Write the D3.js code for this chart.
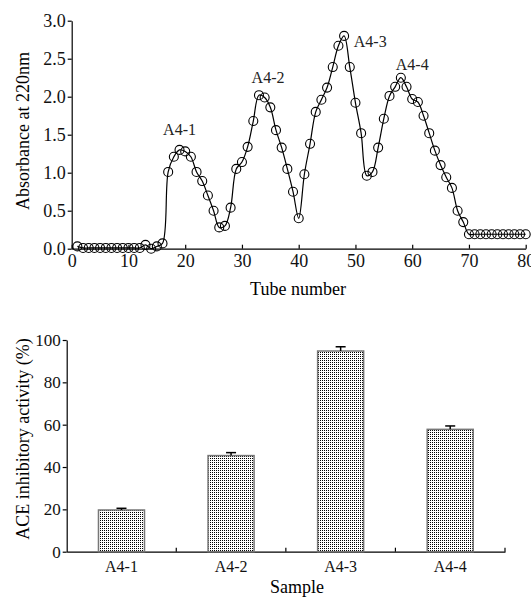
<!DOCTYPE html>
<html>
<head>
<meta charset="utf-8">
<script src="https://cdn.jsdelivr.net/npm/d3@7"></script>
<style>
  body { margin: 0; background: #fff; }
  svg { display: block; }
  svg text { font-family: "Liberation Serif", "Times New Roman", serif; }
</style>
</head>
<body>
<svg id="chart" width="531" height="597"></svg>
<script>
// elution profile (tube number -> absorbance at 220nm)
const tubes = d3.range(1, 81);
const absorbance = [
  0.03, 0.01, 0.01, 0.01, 0.01, 0.01, 0.01, 0.01, 0.01, 0.01,
  0.01, 0.01, 0.05, 0.00, 0.03, 0.07, 1.01, 1.21, 1.30, 1.28,
  1.21, 1.01, 0.89, 0.70, 0.50, 0.28, 0.30, 0.54, 1.05, 1.14,
  1.34, 1.68, 2.02, 1.99, 1.86, 1.56, 1.33, 1.05, 0.75, 0.40,
  0.98, 1.38, 1.80, 1.96, 2.12, 2.39, 2.67, 2.80, 2.39, 1.92,
  1.52, 0.96, 1.01, 1.33, 1.71, 2.01, 2.13, 2.25, 2.13, 1.97,
  1.93, 1.75, 1.52, 1.29, 1.10, 0.94, 0.80, 0.50, 0.35, 0.19,
  0.19, 0.19, 0.19, 0.19, 0.19, 0.19, 0.19, 0.19, 0.19, 0.19
];
const peakNames = ["A4-1", "A4-2", "A4-3", "A4-4"];
const peakTubes = [19, 34.6, 52.6, 60];
const peakLabelY = [1.50, 2.18, 2.65, 2.35];
const absTicks = [0, 0.5, 1.0, 1.5, 2.0, 2.5, 3.0];
const tubeTicks = [0, 10, 20, 30, 40, 50, 60, 70, 80];

// ACE inhibitory activity of each fraction
const samples = ["A4-1", "A4-2", "A4-3", "A4-4"];
const activity = [19.7, 45.4, 94.8, 57.8];
const activityErr = [0.8, 1.4, 2.0, 1.6];
const actTicks = [0, 20, 40, 60, 80, 100];

const svg = d3.select("#chart");
const serif = "'Liberation Serif', 'Times New Roman', serif";

// dotted fill for bars
const pat = svg.append("defs").append("pattern")
  .attr("id", "dots").attr("patternUnits", "userSpaceOnUse")
  .attr("width", 2).attr("height", 2);
pat.append("rect").attr("width", 2).attr("height", 2).attr("fill", "#fff");
pat.append("rect").attr("x", 0).attr("y", 0).attr("width", 1).attr("height", 1).attr("fill", "#000");

// ---------- top: elution profile ----------
const x1 = d3.scaleLinear().domain([0, 80]).range([71.7, 525.7]);
const y1 = d3.scaleLinear().domain([0, 3]).range([248.7, 20.7]);

const g1 = svg.append("g");
g1.append("g").attr("transform", `translate(0,${y1(0)})`)
  .call(d3.axisBottom(x1).tickValues(tubeTicks).tickFormat(d3.format("d"))
        .tickSizeInner(-4).tickSizeOuter(0).tickPadding(6))
  .attr("font-family", serif)
  .call(a => a.selectAll("text").attr("font-size", 18).attr("fill", "#111"));
g1.append("g").attr("transform", `translate(${x1(0)},0)`)
  .call(d3.axisLeft(y1).tickValues(absTicks).tickFormat(d3.format(".1f"))
        .tickSizeInner(4).tickSizeOuter(0).tickPadding(2))
  .attr("font-family", serif)
  .call(a => a.selectAll("text").attr("font-size", 18).attr("fill", "#111"));
g1.selectAll(".domain, .tick line").attr("stroke", "#000").attr("stroke-width", 1.2);

const pts = tubes.map((t, i) => [t, absorbance[i]]);
g1.append("path").datum(pts)
  .attr("fill", "none").attr("stroke", "#000").attr("stroke-width", 1.2)
  .attr("d", d3.line().x(d => x1(d[0])).y(d => y1(d[1])).curve(d3.curveCatmullRom.alpha(0.5)));
g1.selectAll("circle").data(pts).join("circle")
  .attr("cx", d => x1(d[0])).attr("cy", d => y1(d[1])).attr("r", 4.5)
  .attr("fill", "none").attr("stroke", "#000").attr("stroke-width", 1.1);

g1.selectAll(".peak").data(peakNames).join("text").attr("class", "peak")
  .attr("x", (d, i) => x1(peakTubes[i])).attr("y", (d, i) => y1(peakLabelY[i]))
  .attr("text-anchor", "middle").attr("font-size", 16).attr("fill", "#222")
  .text(d => d);

g1.append("text").attr("x", 298).attr("y", 295).attr("text-anchor", "middle")
  .attr("font-size", 18).text("Tube number");
g1.append("text").attr("transform", "translate(29,131) rotate(-90)")
  .attr("text-anchor", "middle").attr("font-size", 18).text("Absorbance at 220nm");

// ---------- bottom: ACE inhibitory activity ----------
const x2 = d3.scaleBand().domain(samples).range([66.7, 505]).paddingInner(0.58).paddingOuter(0.29);
const y2 = d3.scaleLinear().domain([0, 100]).range([551.7, 340]);
const edges = d3.scaleLinear().domain([0, 4]).range([66.7, 505]);

const g2 = svg.append("g");
g2.append("g").attr("transform", `translate(0,${y2(0)})`)
  .call(d3.axisBottom(x2).tickSize(0).tickPadding(9))
  .attr("font-family", serif)
  .call(a => a.selectAll("text").attr("font-size", 16).attr("fill", "#111"));
g2.selectAll(".edge").data([1, 2, 3, 4]).join("line").attr("class", "edge")
  .attr("x1", d => edges(d)).attr("x2", d => edges(d))
  .attr("y1", y2(0)).attr("y2", y2(0) - 4).attr("stroke", "#000").attr("stroke-width", 1.2);
g2.append("g").attr("transform", `translate(${x2.range()[0]},0)`)
  .call(d3.axisLeft(y2).tickValues(actTicks).tickSizeInner(4).tickSizeOuter(0).tickPadding(2))
  .attr("font-family", serif)
  .call(a => a.selectAll("text").attr("font-size", 17).attr("fill", "#111"));
g2.selectAll(".domain, .tick line").attr("stroke", "#000").attr("stroke-width", 1.2);

g2.selectAll(".bar").data(samples).join("rect").attr("class", "bar")
  .attr("x", d => x2(d)).attr("width", x2.bandwidth())
  .attr("y", (d, i) => y2(activity[i])).attr("height", (d, i) => y2(0) - y2(activity[i]))
  .attr("fill", "url(#dots)").attr("stroke", "#777").attr("stroke-width", 1.5);

const cx = d => x2(d) + x2.bandwidth() / 2;
g2.selectAll(".err").data(samples).join("line").attr("class", "err")
  .attr("x1", cx).attr("x2", cx)
  .attr("y1", (d, i) => y2(activity[i])).attr("y2", (d, i) => y2(activity[i] + activityErr[i]))
  .attr("stroke", "#000").attr("stroke-width", 1.5);
g2.selectAll(".cap").data(samples).join("line").attr("class", "cap")
  .attr("x1", d => cx(d) - 5).attr("x2", d => cx(d) + 5)
  .attr("y1", (d, i) => y2(activity[i] + activityErr[i])).attr("y2", (d, i) => y2(activity[i] + activityErr[i]))
  .attr("stroke", "#000").attr("stroke-width", 1.5);

g2.append("text").attr("x", 297).attr("y", 593).attr("text-anchor", "middle")
  .attr("font-size", 18).text("Sample");
g2.append("text").attr("transform", "translate(29,439) rotate(-90)")
  .attr("text-anchor", "middle").attr("font-size", 18).text("ACE inhibitory activity (%)");
</script>
</body>
</html>
